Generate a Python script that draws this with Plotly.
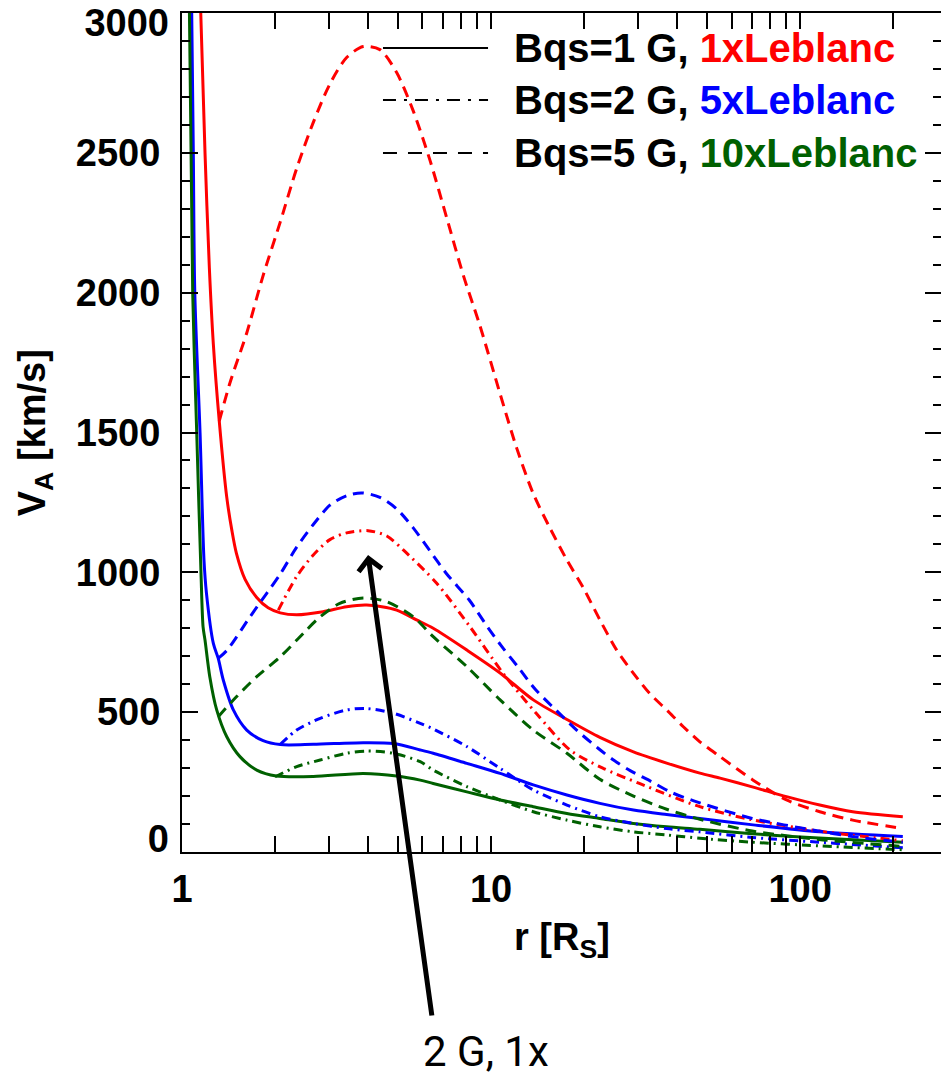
import numpy as np
import plotly.graph_objects as go

# ---------------- data ----------------
# red = 1xLeblanc, blue = 5xLeblanc, green = 10xLeblanc
# solid = Bqs 1 G, dashdot = Bqs 2 G, dashed = Bqs 5 G
r_red_1 = [1.15, 1.187, 1.226, 1.263, 1.32, 1.396, 1.45, 1.50, 1.60, 1.745, 1.90, 2.08, 2.35, 2.86, 3.41, 3.96,
           4.95, 5.74, 6.5, 8.35, 10.7, 13.7, 17.6, 22.5, 28.9, 37.0, 47.4, 55.1, 70.5, 90.4, 115.8, 148, 215]
v_red_1 = [3000, 2500, 2089, 1816, 1541, 1268, 1150, 1068, 975, 910, 873, 855, 848, 859, 877, 883,
           865, 830, 800, 722, 640, 544, 474, 410, 358, 318, 282, 264, 232, 198, 168, 144, 126]

r_red_5 = [1.32, 1.43, 1.62, 1.83, 2.08, 2.35, 2.66, 3.01, 3.41, 3.86, 4.37, 4.95, 5.6, 6.35, 7.19, 8.14,
           9.2, 10.7, 12.1, 13.7, 15.5, 17.6, 19.9, 22.5, 25.5, 28.9, 32.6, 37, 41.9, 47.4, 55.1, 70.5,
           90.4, 115.8, 148, 215]
v_red_5 = [1541, 1678, 1856, 2061, 2253, 2444, 2609, 2746, 2841, 2880, 2869, 2787, 2650, 2472, 2267, 2061,
           1883, 1638, 1445, 1281, 1159, 1044, 944, 830, 722, 639, 567, 508, 448, 394, 341, 257,
           186, 144, 114, 84]

r_red_2 = [2.05, 2.35, 2.66, 3.01, 3.41, 4.0, 4.6, 5.2, 6.67, 8.54, 10.94, 14.0, 18.0, 23.0, 30.2, 47.4,
           70, 115, 148, 215]
v_red_2 = [865, 985, 1062, 1117, 1141, 1149, 1130, 1080, 961, 806, 639, 496, 365, 300, 245, 162,
           115, 75, 60, 40]

r_blue_1 = [1.075, 1.088, 1.10, 1.144, 1.178, 1.20, 1.263, 1.31, 1.36, 1.466, 1.62, 1.83, 2.08, 2.66, 3.86,
            4.83, 5.9, 6.5, 8.35, 10.7, 13.7, 17.6, 22.5, 28.9, 37, 47.4, 70.5, 115.8, 215]
v_blue_1 = [3000, 2500, 2000, 1498, 1044, 925, 746, 692, 615, 508, 436, 398, 384, 385, 391,
            388, 365, 353, 317, 281, 240, 204, 174, 150, 134, 120, 97, 72, 55]

r_blue_5 = [1.31, 1.40, 1.66, 1.88, 2.08, 2.35, 2.66, 3.01, 3.41, 3.82, 4.37, 4.95, 5.6, 6.35, 7.19, 8.5,
            9.75, 10.95, 12.2, 13.9, 16.2, 19.0, 22.2, 24.9, 28.2, 32.6, 38.0, 45.3, 70, 115, 148, 215]
v_blue_5 = [692, 722, 841, 925, 994, 1090, 1171, 1240, 1274, 1284, 1268, 1227, 1159, 1076, 994, 901,
            804, 728, 663, 582, 508, 434, 371, 329, 291, 255, 215, 183, 120, 75, 55, 35]

r_blue_2 = [2.08, 2.35, 2.8, 3.41, 3.96, 4.83, 5.9, 6.5, 8.35, 10.7, 13.7, 17.6, 22.5, 28.9, 37, 47.4,
            70, 115, 215]
v_blue_2 = [385, 436, 478, 508, 513, 496, 460, 440, 377, 299, 222, 168, 126, 102, 84, 72,
            52, 35, 15]

r_green_1 = [1.057, 1.083, 1.116, 1.152, 1.17, 1.187, 1.23, 1.295, 1.396, 1.54, 1.745, 2.02, 2.66, 3.86,
             4.95, 5.9, 6.5, 8.35, 10.7, 13.7, 17.6, 22.5, 28.9, 37, 47.4, 70, 115, 215]
v_green_1 = [3000, 2000, 1498, 998, 805, 758, 627, 508, 412, 341, 293, 272, 270, 281,
             272, 257, 245, 215, 186, 162, 138, 120, 102, 90, 81, 65, 50, 35]

r_green_5 = [1.31, 1.50, 1.745, 2.08, 2.47, 2.8, 3.24, 3.86, 4.6, 5.6, 6.5, 8.35, 10.7, 13.7, 17.6, 22.5,
             28.9, 37, 47.4, 70, 115, 215]
v_green_5 = [484, 555, 627, 698, 782, 841, 889, 908, 895, 841, 770, 663, 544, 436, 353, 260,
             200, 153, 117, 75, 45, 20]

r_green_2 = [2.0, 2.35, 2.8, 3.41, 3.96, 4.83, 5.9, 6.5, 8.35, 10.7, 13.7, 17.6, 22.5, 28.9, 37, 47.4,
             70, 115, 215]
v_green_2 = [269, 305, 329, 353, 361, 353, 323, 293, 234, 186, 144, 114, 90, 72, 61, 49,
             35, 22, 8]

legend_bqs = ["Bqs=1 G, ", "Bqs=2 G, ", "Bqs=5 G, "]
legend_dens = ["1xLeblanc", "5xLeblanc", "10xLeblanc"]

x_tickvals = [1, 10, 100]
x_minor = [2, 3, 4, 5, 6, 7, 8, 9, 20, 30, 40, 50, 60, 70, 80, 90, 200]
y_tickvals = [0, 500, 1000, 1500, 2000, 2500, 3000]
y_range = [0, 3000]

# ---------------- styling ----------------
RED, BLUE, GREEN = "#ff0000", "#0000ff", "#006000"
DASH = "11px,7px"
DASHDOT = "9px,5px,2px,5px"
FONT = "Liberation Sans"
TICKFONT = dict(family=FONT, size=38, color="black", weight="bold")

fig = go.Figure()

curves = [
    (r_red_1, v_red_1, RED, "solid"),
    (r_blue_1, v_blue_1, BLUE, "solid"),
    (r_green_1, v_green_1, GREEN, "solid"),
    (r_red_2, v_red_2, RED, DASHDOT),
    (r_blue_2, v_blue_2, BLUE, DASHDOT),
    (r_green_2, v_green_2, GREEN, DASHDOT),
    (r_red_5, v_red_5, RED, DASH),
    (r_blue_5, v_blue_5, BLUE, DASH),
    (r_green_5, v_green_5, GREEN, DASH),
]
for rr, vv, col, dash in curves:
    fig.add_trace(go.Scatter(x=rr, y=vv, mode="lines", showlegend=False,
                             line=dict(color=col, width=3, dash=dash, shape="spline", smoothing=0.8)))

axis_common = dict(showline=True, linewidth=2, linecolor="black", mirror="allticks",
                   ticks="inside", tickwidth=2, tickcolor="black", ticklen=16, automargin=False,
                   showgrid=False, zeroline=False, tickfont=TICKFONT)

fig.update_xaxes(type="log", range=[0, 2.456], tickmode="array", tickvals=x_tickvals,
                 ticktext=[str(v) for v in x_tickvals], ticklabelstandoff=2,
                 minor=dict(ticks="inside", ticklen=8, tickwidth=2, tickcolor="black",
                            tickmode="array", tickvals=x_minor),
                 **axis_common)
# inner labels on the main y axis; end labels (0 and 3000) are nudged inside the frame
inner_text = ["" if v in (y_tickvals[0], y_tickvals[-1]) else str(v) for v in y_tickvals]
fig.update_yaxes(range=y_range, autorange=False, tickmode="array", tickvals=y_tickvals,
                 ticktext=inner_text, ticklabelstandoff=12,
                 minor=dict(ticks="inside", ticklen=8, tickwidth=2, tickcolor="black", dtick=100),
                 **axis_common)
end_axis = dict(overlaying="y", side="left", range=y_range, autorange=False, showline=False,
                showgrid=False, zeroline=False, ticks="", tickfont=TICKFONT, ticklabelstandoff=12,
                tickmode="array", ticklabeloverflow="allow", automargin=False)
fig.update_layout(
    yaxis2=dict(tickvals=[y_tickvals[-1]], ticktext=[str(y_tickvals[-1])],
                ticklabelshift=10, **end_axis),
    yaxis3=dict(tickvals=[y_tickvals[0]], ticktext=[str(y_tickvals[0])],
                ticklabelshift=-13, **end_axis),
)
# invisible anchors so the overlay axes are drawn
fig.add_trace(go.Scatter(x=[x_tickvals[0]], y=[y_tickvals[-1]], yaxis="y2", mode="markers",
                         marker=dict(opacity=0), showlegend=False, hoverinfo="skip"))
fig.add_trace(go.Scatter(x=[x_tickvals[0]], y=[y_tickvals[0]], yaxis="y3", mode="markers",
                         marker=dict(opacity=0), showlegend=False, hoverinfo="skip"))

# axis titles
fig.add_annotation(text="r [R<sub>S</sub>]", xref="paper", yref="paper", x=0.5, y=-0.105,
                   xanchor="center", yanchor="middle", showarrow=False,
                   font=dict(family=FONT, size=38, color="black", weight="bold"))
fig.add_annotation(text="V<sub>A</sub> [km/s]", xref="paper", yref="paper", x=-0.194, y=0.5,
                   xanchor="center", yanchor="middle", showarrow=False, textangle=-90,
                   font=dict(family=FONT, size=38, color="black", weight="bold"))

# legend (custom, IDL style)
leg_y = [0.9583, 0.8963, 0.8331]
leg_dash = ["solid", "13px,8px,3px,8px", "14px,11px"]
leg_col = [RED, BLUE, GREEN]
for i in range(3):
    fig.add_shape(type="line", xref="paper", yref="paper", x0=0.2648, x1=0.4032,
                  y0=leg_y[i], y1=leg_y[i], line=dict(color="black", width=2, dash=leg_dash[i]))
    fig.add_annotation(text=f"{legend_bqs[i]}<span style='color:{leg_col[i]}'>{legend_dens[i]}</span>",
                       xref="paper", yref="paper", x=0.4348, y=leg_y[i], xanchor="left",
                       yanchor="middle", showarrow=False,
                       font=dict(family=FONT, size=40, color="black", weight="bold"))

# arrow pointing to the 2 G, 1x curve
fig.add_annotation(x=np.log10(4.0), y=1062, xref="x", yref="y", text="", showarrow=True,
                   ax=64, ay=462, arrowhead=4, arrowwidth=5, arrowsize=0.9,
                   arrowcolor="black", standoff=0)
fig.add_annotation(text="2 G, 1x", xref="paper", yref="paper", x=0.4005, y=-0.2694,
                   xanchor="center", yanchor="bottom", showarrow=False,
                   font=dict(family="Roboto", size=42, color="black"))

fig.update_layout(width=941, height=1079, margin=dict(l=182, r=0, t=13, b=227),
                  plot_bgcolor="white", paper_bgcolor="white")

fig.write_html("out.html")
